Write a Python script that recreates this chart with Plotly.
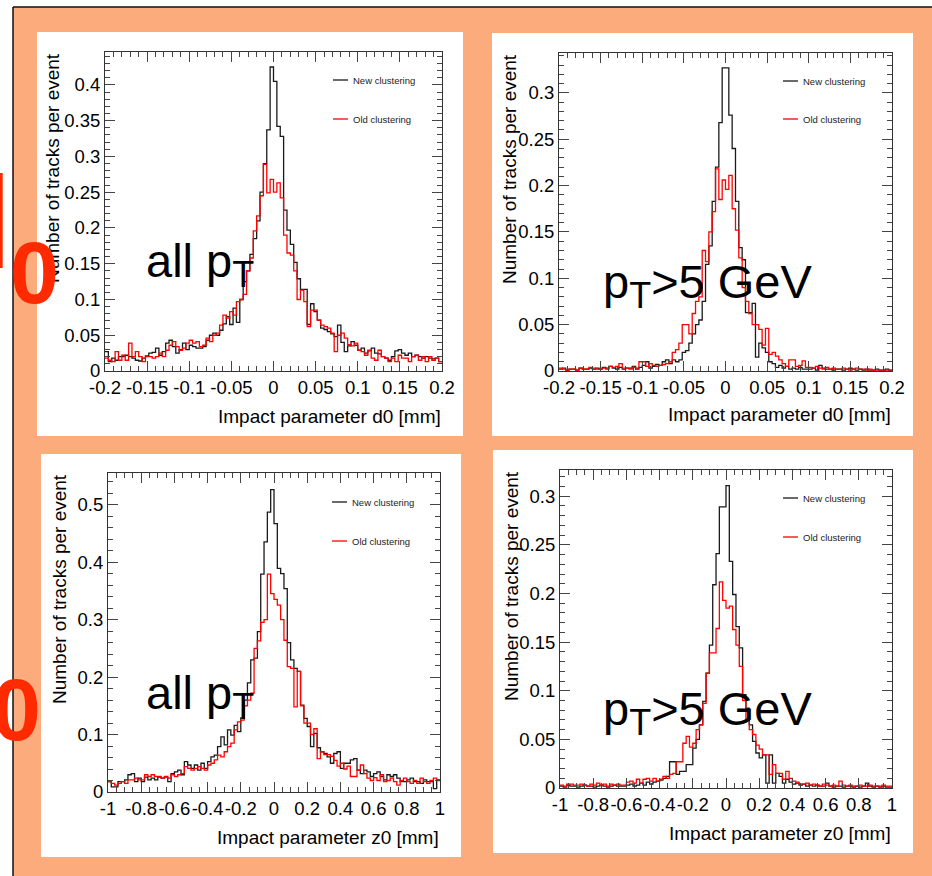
import numpy as np
import plotly.graph_objects as go

W, H = 932, 876


def fx(p):
    return p / W


def fy(p):
    return 1 - p / H


# ---------------- data (100 bins each) ----------------
d0_all_new = [0.027, 0.013, 0.018, 0.015, 0.020, 0.020, 0.022, 0.020, 0.018, 0.015,
              0.014, 0.018, 0.021, 0.025, 0.026, 0.032, 0.022, 0.027, 0.039, 0.043,
              0.034, 0.025, 0.030, 0.039, 0.030, 0.036, 0.034, 0.032, 0.032, 0.034,
              0.043, 0.050, 0.053, 0.050, 0.057, 0.066, 0.076, 0.065, 0.088, 0.068,
              0.100, 0.125, 0.140, 0.163, 0.185, 0.210, 0.250, 0.290, 0.337, 0.425,
              0.405, 0.342, 0.328, 0.225, 0.197, 0.177, 0.152, 0.129, 0.114, 0.114,
              0.065, 0.094, 0.083, 0.071, 0.060, 0.058, 0.055, 0.052, 0.048, 0.064,
              0.040, 0.027, 0.035, 0.041, 0.036, 0.029, 0.032, 0.025, 0.028, 0.032,
              0.025, 0.024, 0.020, 0.018, 0.015, 0.020, 0.028, 0.030, 0.025, 0.022,
              0.025, 0.020, 0.022, 0.020, 0.018, 0.020, 0.018, 0.017, 0.018, 0.013]
d0_all_old = [0.018, 0.015, 0.013, 0.027, 0.015, 0.022, 0.015, 0.039, 0.020, 0.027,
              0.020, 0.013, 0.020, 0.020, 0.018, 0.020, 0.025, 0.020, 0.029, 0.036,
              0.041, 0.034, 0.029, 0.032, 0.039, 0.043, 0.039, 0.041, 0.034, 0.036,
              0.046, 0.041, 0.050, 0.053, 0.064, 0.078, 0.074, 0.083, 0.078, 0.097,
              0.100, 0.107, 0.140, 0.158, 0.196, 0.217, 0.245, 0.289, 0.249, 0.268,
              0.250, 0.263, 0.242, 0.190, 0.165, 0.162, 0.140, 0.100, 0.113, 0.097,
              0.062, 0.085, 0.085, 0.071, 0.064, 0.062, 0.060, 0.053, 0.027, 0.050,
              0.053, 0.046, 0.037, 0.035, 0.039, 0.029, 0.027, 0.022, 0.029, 0.018,
              0.015, 0.029, 0.020, 0.018, 0.013, 0.018, 0.013, 0.022, 0.018, 0.018,
              0.013, 0.020, 0.022, 0.015, 0.020, 0.013, 0.020, 0.015, 0.018, 0.013]

d0_pt5_new = [0.002, 0.003, 0.001, 0.002, 0.002, 0.001, 0.003, 0.002, 0.002, 0.003,
              0.002, 0.003, 0.002, 0.004, 0.003, 0.005, 0.003, 0.002, 0.004, 0.002,
              0.003, 0.003, 0.005, 0.002, 0.004, 0.006, 0.010, 0.003, 0.005, 0.007,
              0.006, 0.010, 0.012, 0.008, 0.012, 0.010, 0.012, 0.020, 0.022, 0.030,
              0.040, 0.050, 0.055, 0.075, 0.115, 0.135, 0.183, 0.220, 0.268, 0.327,
              0.327, 0.276, 0.240, 0.183, 0.133, 0.120, 0.063, 0.063, 0.073, 0.015,
              0.030, 0.025, 0.020, 0.010, 0.008, 0.004, 0.006, 0.003, 0.005, 0.002,
              0.003, 0.002, 0.004, 0.002, 0.002, 0.002, 0.003, 0.001, 0.006, 0.003,
              0.002, 0.002, 0.001, 0.002, 0.002, 0.001, 0.002, 0.003, 0.002, 0.001,
              0.002, 0.001, 0.002, 0.001, 0.001, 0.002, 0.001, 0.001, 0.002, 0.001]
d0_pt5_old = [0.003, 0.002, 0.001, 0.002, 0.002, 0.001, 0.003, 0.002, 0.002, 0.004,
              0.003, 0.002, 0.002, 0.003, 0.002, 0.005, 0.004, 0.005, 0.008, 0.003,
              0.003, 0.002, 0.004, 0.003, 0.010, 0.010, 0.005, 0.008, 0.006, 0.005,
              0.006, 0.007, 0.008, 0.010, 0.020, 0.023, 0.030, 0.050, 0.050, 0.040,
              0.062, 0.075, 0.080, 0.130, 0.118, 0.150, 0.172, 0.218, 0.185, 0.206,
              0.196, 0.211, 0.175, 0.152, 0.122, 0.090, 0.075, 0.062, 0.050, 0.050,
              0.045, 0.028, 0.046, 0.018, 0.020, 0.016, 0.012, 0.008, 0.005, 0.012,
              0.012, 0.005, 0.006, 0.011, 0.004, 0.004, 0.003, 0.005, 0.003, 0.002,
              0.004, 0.002, 0.003, 0.002, 0.002, 0.003, 0.002, 0.001, 0.002, 0.003,
              0.002, 0.002, 0.001, 0.002, 0.001, 0.001, 0.001, 0.001, 0.001, 0.001]

z0_all_new = [0.018, 0.009, 0.009, 0.018, 0.018, 0.021, 0.030, 0.032, 0.018, 0.024,
              0.018, 0.026, 0.021, 0.024, 0.021, 0.026, 0.024, 0.026, 0.018, 0.032,
              0.035, 0.038, 0.030, 0.053, 0.047, 0.041, 0.047, 0.038, 0.050, 0.041,
              0.053, 0.061, 0.064, 0.079, 0.096, 0.082, 0.108, 0.099, 0.116, 0.105,
              0.129, 0.160, 0.190, 0.230, 0.233, 0.279, 0.379, 0.435, 0.487, 0.526,
              0.467, 0.389, 0.380, 0.354, 0.260, 0.230, 0.215, 0.210, 0.151, 0.128,
              0.114, 0.079, 0.102, 0.077, 0.070, 0.067, 0.061, 0.050, 0.067, 0.070,
              0.041, 0.050, 0.050, 0.056, 0.058, 0.038, 0.032, 0.038, 0.035, 0.027,
              0.032, 0.035, 0.027, 0.021, 0.030, 0.027, 0.030, 0.024, 0.018, 0.018,
              0.021, 0.024, 0.018, 0.018, 0.015, 0.021, 0.018, 0.018, 0.006, 0.021]
z0_all_old = [0.018, 0.015, 0.012, 0.015, 0.018, 0.015, 0.021, 0.021, 0.024, 0.021,
              0.021, 0.030, 0.027, 0.030, 0.027, 0.027, 0.024, 0.027, 0.024, 0.030,
              0.027, 0.030, 0.032, 0.044, 0.041, 0.038, 0.041, 0.044, 0.041, 0.038,
              0.047, 0.050, 0.056, 0.064, 0.061, 0.070, 0.079, 0.085, 0.108, 0.122,
              0.125, 0.150, 0.160, 0.172, 0.250, 0.263, 0.295, 0.300, 0.379, 0.345,
              0.335, 0.325, 0.300, 0.264, 0.218, 0.215, 0.148, 0.210, 0.150, 0.120,
              0.120, 0.100, 0.110, 0.058, 0.070, 0.065, 0.065, 0.062, 0.055, 0.045,
              0.050, 0.040, 0.045, 0.027, 0.027, 0.038, 0.047, 0.032, 0.024, 0.020,
              0.025, 0.020, 0.030, 0.018, 0.020, 0.024, 0.018, 0.012, 0.020, 0.024,
              0.018, 0.015, 0.020, 0.015, 0.024, 0.018, 0.015, 0.020, 0.024, 0.020]

z0_pt5_new = [0.002, 0.001, 0.003, 0.002, 0.002, 0.001, 0.002, 0.003, 0.002, 0.002,
              0.001, 0.002, 0.003, 0.002, 0.001, 0.002, 0.003, 0.002, 0.002, 0.002,
              0.003, 0.004, 0.002, 0.003, 0.005, 0.003, 0.006, 0.004, 0.006, 0.007,
              0.008, 0.010, 0.012, 0.027, 0.027, 0.014, 0.017, 0.017, 0.024, 0.024,
              0.041, 0.050, 0.065, 0.089, 0.118, 0.147, 0.209, 0.241, 0.289, 0.289,
              0.311, 0.233, 0.199, 0.166, 0.144, 0.096, 0.082, 0.065, 0.048, 0.036,
              0.031, 0.034, 0.005, 0.034, 0.005, 0.015, 0.012, 0.005, 0.009, 0.006,
              0.004, 0.005, 0.003, 0.004, 0.002, 0.003, 0.002, 0.003, 0.002, 0.002,
              0.005, 0.002, 0.001, 0.002, 0.002, 0.001, 0.002, 0.002, 0.001, 0.002,
              0.001, 0.002, 0.005, 0.002, 0.001, 0.002, 0.001, 0.002, 0.001, 0.001]
z0_pt5_old = [0.003, 0.002, 0.004, 0.004, 0.003, 0.003, 0.004, 0.003, 0.002, 0.004,
              0.003, 0.005, 0.003, 0.004, 0.002, 0.004, 0.003, 0.004, 0.003, 0.003,
              0.006, 0.007, 0.005, 0.009, 0.005, 0.009, 0.010, 0.007, 0.010, 0.007,
              0.009, 0.012, 0.010, 0.014, 0.015, 0.027, 0.027, 0.046, 0.053, 0.042,
              0.046, 0.060, 0.065, 0.087, 0.118, 0.139, 0.139, 0.164, 0.212, 0.193,
              0.185, 0.187, 0.163, 0.147, 0.125, 0.090, 0.070, 0.060, 0.055, 0.044,
              0.040, 0.034, 0.034, 0.014, 0.024, 0.015, 0.015, 0.009, 0.017, 0.010,
              0.007, 0.006, 0.004, 0.004, 0.005, 0.003, 0.004, 0.003, 0.002, 0.004,
              0.003, 0.002, 0.003, 0.002, 0.007, 0.003, 0.002, 0.003, 0.002, 0.002,
              0.003, 0.002, 0.002, 0.003, 0.002, 0.002, 0.002, 0.003, 0.002, 0.002]

# tick labels
d0_ticks = [-0.2, -0.15, -0.1, -0.05, 0, 0.05, 0.1, 0.15, 0.2]
d0_ticktext = ["-0.2", "-0.15", "-0.1", "-0.05", "0", "0.05", "0.1", "0.15", "0.2"]
z0_ticks = [-1, -0.8, -0.6, -0.4, -0.2, 0, 0.2, 0.4, 0.6, 0.8, 1]
z0_ticktext = ["-1", "-0.8", "-0.6", "-0.4", "-0.2", "0", "0.2", "0.4", "0.6", "0.8", "1"]
y_ticks_005_04 = [0, 0.05, 0.1, 0.15, 0.2, 0.25, 0.3, 0.35, 0.4]
y_ticktext_005_04 = ["0", "0.05", "0.1", "0.15", "0.2", "0.25", "0.3", "0.35", "0.4"]
y_ticks_005_03 = [0, 0.05, 0.1, 0.15, 0.2, 0.25, 0.3]
y_ticktext_005_03 = ["0", "0.05", "0.1", "0.15", "0.2", "0.25", "0.3"]
y_ticks_01_05 = [0, 0.1, 0.2, 0.3, 0.4, 0.5]
y_ticktext_01_05 = ["0", "0.1", "0.2", "0.3", "0.4", "0.5"]

series_names = ["New clustering", "Old clustering"]
pt_labels = ["all p<sub><span style='font-size:36px'>T</span></sub>",
             "p<sub><span style='font-size:36px'>T</span></sub>>5 GeV"]
x_titles = ["Impact parameter d0 [mm]", "Impact parameter z0 [mm]"]
y_title = "Number of tracks per event"

# ---------------- layout geometry ----------------
FONT = "Liberation Sans, Arial, Helvetica, sans-serif"
ORANGE = "#FBAB7C"
RED_LINE = "#FF0000"
BLACK_LINE = "#1a1a1a"

panels = [
    dict(new=d0_all_new, old=d0_all_old, xr=(-0.2, 0.2), ymax=0.446,
         frame=(105, 442, 52, 371), card=(37, 463, 32, 436),
         xt=d0_ticks, xtt=d0_ticktext, xminor=0.01,
         yt=y_ticks_005_04, ytt=y_ticktext_005_04, yminor=0.01,
         xtitle=x_titles[0], ytitle_x=53, xtitle_y=416,
         leg=(333, 80, 119), label=pt_labels[0], label_pos=(145, 264)),
    dict(new=d0_pt5_new, old=d0_pt5_old, xr=(-0.2, 0.2), ymax=0.343,
         frame=(559, 892, 53, 371), card=(492, 913, 33, 436),
         xt=d0_ticks, xtt=d0_ticktext, xminor=0.01,
         yt=y_ticks_005_03, ytt=y_ticktext_005_03, yminor=0.01,
         xtitle=x_titles[0], ytitle_x=509, xtitle_y=415,
         leg=(783, 81, 119), label=pt_labels[1], label_pos=(602, 285)),
    dict(new=z0_all_new, old=z0_all_old, xr=(-1, 1), ymax=0.555,
         frame=(108, 440, 473, 792), card=(41, 461, 454, 857),
         xt=z0_ticks, xtt=z0_ticktext, xminor=0.05,
         yt=y_ticks_01_05, ytt=y_ticktext_01_05, yminor=0.02,
         xtitle=x_titles[1], ytitle_x=59, xtitle_y=837,
         leg=(332, 502, 541), label=pt_labels[0], label_pos=(145, 696)),
    dict(new=z0_pt5_new, old=z0_pt5_old, xr=(-1, 1), ymax=0.327,
         frame=(560, 892, 470, 788), card=(493, 913, 450, 853),
         xt=z0_ticks, xtt=z0_ticktext, xminor=0.05,
         yt=y_ticks_005_03, ytt=y_ticktext_005_03, yminor=0.01,
         xtitle=x_titles[1], ytitle_x=511, xtitle_y=833,
         leg=(783, 498, 537), label=pt_labels[1], label_pos=(602, 712)),
]

fig = go.Figure()
shapes = []
annotations = []

# slide background
shapes.append(dict(type="rect", xref="paper", yref="paper", x0=fx(13), x1=1, y0=0, y1=fy(7),
                   fillcolor=ORANGE, line=dict(width=0), layer="below"))
shapes.append(dict(type="line", xref="paper", yref="paper", x0=fx(13), x1=1, y0=fy(7), y1=fy(7),
                   line=dict(color="#111", width=1.5), layer="below"))
shapes.append(dict(type="line", xref="paper", yref="paper", x0=fx(13), x1=fx(13), y0=0, y1=fy(7),
                   line=dict(color="#111", width=1.5), layer="below"))
shapes.append(dict(type="rect", xref="paper", yref="paper", x0=0, x1=fx(2.7), y0=fy(268), y1=fy(173),
                   fillcolor="#FF2A00", line=dict(width=0), layer="below"))

layout_axes = {}
for i, p in enumerate(panels):
    k = "" if i == 0 else str(i + 1)
    l, r, t, b = p["frame"]
    cl, cr, ct, cb = p["card"]
    shapes.append(dict(type="rect", xref="paper", yref="paper", x0=fx(cl), x1=fx(cr),
                       y0=fy(cb), y1=fy(ct), fillcolor="white", line=dict(width=0), layer="below"))

    n = len(p["new"])
    edges = np.linspace(p["xr"][0], p["xr"][1], n + 1)
    for vals, col, name in ((p["new"], BLACK_LINE, series_names[0]), (p["old"], RED_LINE, series_names[1])):
        fig.add_trace(go.Scatter(x=edges, y=list(vals) + [vals[-1]], mode="lines",
                                 line=dict(shape="hv", color=col, width=1.3),
                                 name=name, showlegend=False, hoverinfo="skip",
                                 xaxis="x" + k, yaxis="y" + k))

    tickfont = dict(family=FONT, size=18.5, color="black")
    common = dict(showline=True, linecolor="#333", linewidth=1, mirror="allticks",
                  ticks="inside", ticklen=10, tickwidth=1, tickcolor="#444",
                  tickmode="array", tickfont=tickfont, automargin=False, tickangle=0,
                  showgrid=False, zeroline=False, fixedrange=True)
    layout_axes["xaxis" + k] = dict(
        domain=[fx(l), fx(r)], range=list(p["xr"]), anchor="y" + k,
        tickvals=p["xt"], ticktext=p["xtt"],
        minor=dict(ticks="inside", ticklen=5, tickwidth=1, tickcolor="#444",
                   tick0=0, dtick=p["xminor"], showgrid=False), **common)
    layout_axes["yaxis" + k] = dict(
        domain=[fy(b), fy(t)], range=[0, p["ymax"]], anchor="x" + k,
        tickvals=p["yt"], ticktext=p["ytt"],
        minor=dict(ticks="inside", ticklen=5, tickwidth=1, tickcolor="#444",
                   tick0=0, dtick=p["yminor"], showgrid=False), **common)

    # axis titles (ROOT style: right / top aligned)
    annotations.append(dict(text=p["xtitle"], xref="paper", yref="paper", x=fx(r), y=fy(p["xtitle_y"]),
                            xanchor="right", yanchor="middle", showarrow=False, borderpad=0,
                            font=dict(family=FONT, size=19, color="black")))
    annotations.append(dict(text=y_title, xref="paper", yref="paper", x=fx(p["ytitle_x"]), y=fy(t),
                            xanchor="center", yanchor="top", textangle=-90, showarrow=False, borderpad=0,
                            font=dict(family=FONT, size=19, color="black")))
    # legend
    lx, ly1, ly2 = p["leg"]
    for yy, col, name in ((ly1, BLACK_LINE, series_names[0]), (ly2, RED_LINE, series_names[1])):
        shapes.append(dict(type="line", xref="paper", yref="paper", x0=fx(lx), x1=fx(lx + 15),
                           y0=fy(yy), y1=fy(yy), line=dict(color=col, width=1.3), layer="above"))
        annotations.append(dict(text=name, xref="paper", yref="paper", x=fx(lx + 19), y=fy(yy),
                                xanchor="left", yanchor="middle", showarrow=False, borderpad=0,
                                font=dict(family=FONT, size=9.5, color="#222")))
    # big pT label
    px, py = p["label_pos"]
    annotations.append(dict(text=p["label"], xref="paper", yref="paper", x=fx(px), y=fy(py),
                            xanchor="left", yanchor="middle", showarrow=False, borderpad=0,
                            font=dict(family=FONT, size=47, color="black")))

# red partial letters at the left edge of the slide
annotations.append(dict(text="<b>0</b>", xref="paper", yref="paper", x=fx(9), y=fy(272),
                        xanchor="left", yanchor="middle", showarrow=False, borderpad=0,
                        font=dict(family=FONT, size=88, color="#FF2A00")))
annotations.append(dict(text="<b>0</b>", xref="paper", yref="paper", x=fx(42), y=fy(709),
                        xanchor="right", yanchor="middle", showarrow=False, borderpad=0,
                        font=dict(family=FONT, size=88, color="#FF2A00")))

fig.update_layout(
    template="none",
    width=W, height=H, autosize=False, margin=dict(l=0, r=0, t=0, b=0, pad=0),
    paper_bgcolor="white", plot_bgcolor="rgba(0,0,0,0)",
    showlegend=False, shapes=shapes, annotations=annotations,
    font=dict(family=FONT, color="black"),
    **layout_axes)

fig.write_html("out.html", config=dict(displayModeBar=False))
